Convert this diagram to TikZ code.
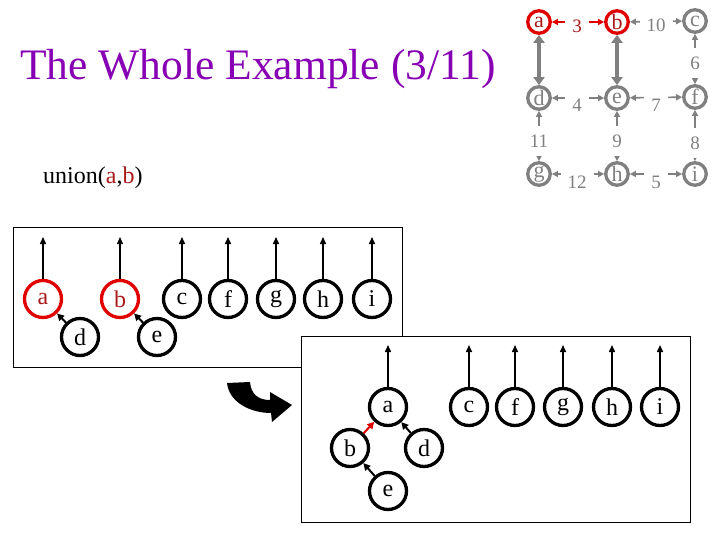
\documentclass[tikz,border=0pt]{standalone}
\usepackage{fontspec}
\setmainfont{Liberation Serif}
\usetikzlibrary{arrows.meta}
\definecolor{ttl}{RGB}{136,0,180}
\definecolor{rc}{RGB}{225,0,0}
\definecolor{drc}{RGB}{170,25,25}
\definecolor{gc}{RGB}{128,128,128}
\tikzset{
  bnode/.style={circle,draw=black,line width=3.3pt,minimum size=37pt,inner sep=0pt,font=\fontsize{24}{26}\selectfont},
  bred/.style={bnode,draw=rc,text=drc},
  tnode/.style={circle,draw=gc,text=gc,line width=3.3pt,minimum size=22.5pt,inner sep=0pt,font=\fontsize{22}{24}\selectfont},
  tred/.style={tnode,draw=rc,text=drc},
  gedge/.style={draw=gc,line width=1.6pt,{Triangle[length=6pt,width=6pt]}-{Triangle[length=6pt,width=6pt]}},
  redge/.style={gedge,draw=rc,fill=rc},
  tedge/.style={draw=gc,line width=4pt,{Triangle[length=8pt,width=11pt]}-{Triangle[length=8pt,width=11pt]}},
  wlab/.style={fill=white,text=gc,inner xsep=7pt,inner ysep=9pt,font=\fontsize{19}{21}\selectfont},
  uparrow/.style={draw=black,line width=1.5pt,-{Triangle[length=7pt,width=6pt]}},
  parrow/.style={draw=black,line width=2pt,-{Triangle[length=7pt,width=7pt]}},
  boxline/.style={draw=black,line width=1pt}
}
\begin{document}
\begin{tikzpicture}[x=1pt,y=-1pt]
\path[use as bounding box,fill=white] (0,0) rectangle (720,540);

% title and caption
\node[anchor=base west,text=ttl,font=\fontsize{43.5}{46}\selectfont,inner sep=0pt] (title) at (20,80) {The Whole Example (3/11)};
\node[anchor=base west,font=\fontsize{24}{26}\selectfont,inner sep=0pt] (cap) at (43,184) {union(\textcolor{drc}{a},\textcolor{drc}{b})};

% top-right graph
\node[tred] (ta) at (539,22) {a};
\node[tred] (tb) at (617,22) {b};
\node[tnode] (tc) at (695,21) {c};
\node[tnode] (td) at (539,98) {d};
\node[tnode] (te) at (617,98) {e};
\node[tnode] (tf) at (695,97) {f};
\node[tnode] (tg) at (539,174) {g};
\node[tnode] (th) at (617,174) {h};
\node[tnode] (ti) at (695,174) {i};

\draw[redge] (ta) -- (tb);
\draw[gedge] (tb) -- (tc);
\draw[gedge] (tc) -- (tf);
\draw[gedge] (td) -- (te);
\draw[gedge] (te) -- (tf);
\draw[gedge] (td) -- (tg);
\draw[gedge] (te) -- (th);
\draw[gedge] (tf) -- (ti);
\draw[gedge] (tg) -- (th);
\draw[gedge] (th) -- (ti);
\draw[tedge] (ta) -- (td);
\draw[tedge] (tb) -- (te);

\node[wlab,text=drc] (w3) at (577,26) {3};
\node[wlab] (w10) at (656,25) {10};
\node[wlab] (w6) at (695,63) {6};
\node[wlab] (w4) at (577,105) {4};
\node[wlab] (w7) at (656,105) {7};
\node[wlab] (w11) at (539,141) {11};
\node[wlab] (w9) at (617,141) {9};
\node[wlab] (w8) at (695,143) {8};
\node[wlab] (w12) at (577,182) {12};
\node[wlab] (w5) at (656,182) {5};

% box 1
\draw[boxline] (13,228) rectangle (402,367);
\node[bred] (a1) at (43,299) {a};
\node[bred] (b1) at (120,299) {b};
\node[bnode] (c1) at (182,299) {c};
\node[bnode] (f1) at (228,299) {f};
\node[bnode] (g1) at (276,299) {g};
\node[bnode] (h1) at (323,299) {h};
\node[bnode] (i1) at (372,299) {i};
\node[bnode] (d1) at (80,337) {d};
\node[bnode] (e1) at (157,337) {e};
\foreach \n/\x in {a1/43,b1/120,c1/182,f1/228,g1/276,h1/323,i1/372}{
  \coordinate (\n t) at (\x,237);
  \draw[uparrow] (\n) -- (\n t);
}
\draw[parrow] (d1) -- (a1);
\draw[parrow] (e1) -- (b1);

% box 2
\draw[boxline,fill=white] (301,336) rectangle (690,522);
\node[bnode] (a2) at (388,407) {a};
\node[bnode] (c2) at (469,407) {c};
\node[bnode] (f2) at (515,407) {f};
\node[bnode] (g2) at (563,407) {g};
\node[bnode] (h2) at (612,407) {h};
\node[bnode] (i2) at (660,407) {i};
\node[bnode] (b2) at (350,448) {b};
\node[bnode] (d2) at (424,448) {d};
\node[bnode] (e2) at (388,491) {e};
\foreach \n/\x in {a2/388,c2/469,f2/515,g2/563,h2/612,i2/660}{
  \coordinate (\n t) at (\x,345);
  \draw[uparrow] (\n) -- (\n t);
}
\draw[parrow,draw=rc,-{Triangle[length=7pt,width=7pt,fill=rc]}] (b2) -- (a2);
\draw[parrow] (d2) -- (a2);
\draw[parrow] (e2) -- (b2);

% curved arrow
\fill[black] (227,383) .. controls (229,402) and (250,413) .. (271,413)
  -- (272,422) -- (292,405) -- (270,392) -- (270,400)
  .. controls (258,400) and (251,394) .. (250,382) -- cycle;
\end{tikzpicture}
\end{document}
